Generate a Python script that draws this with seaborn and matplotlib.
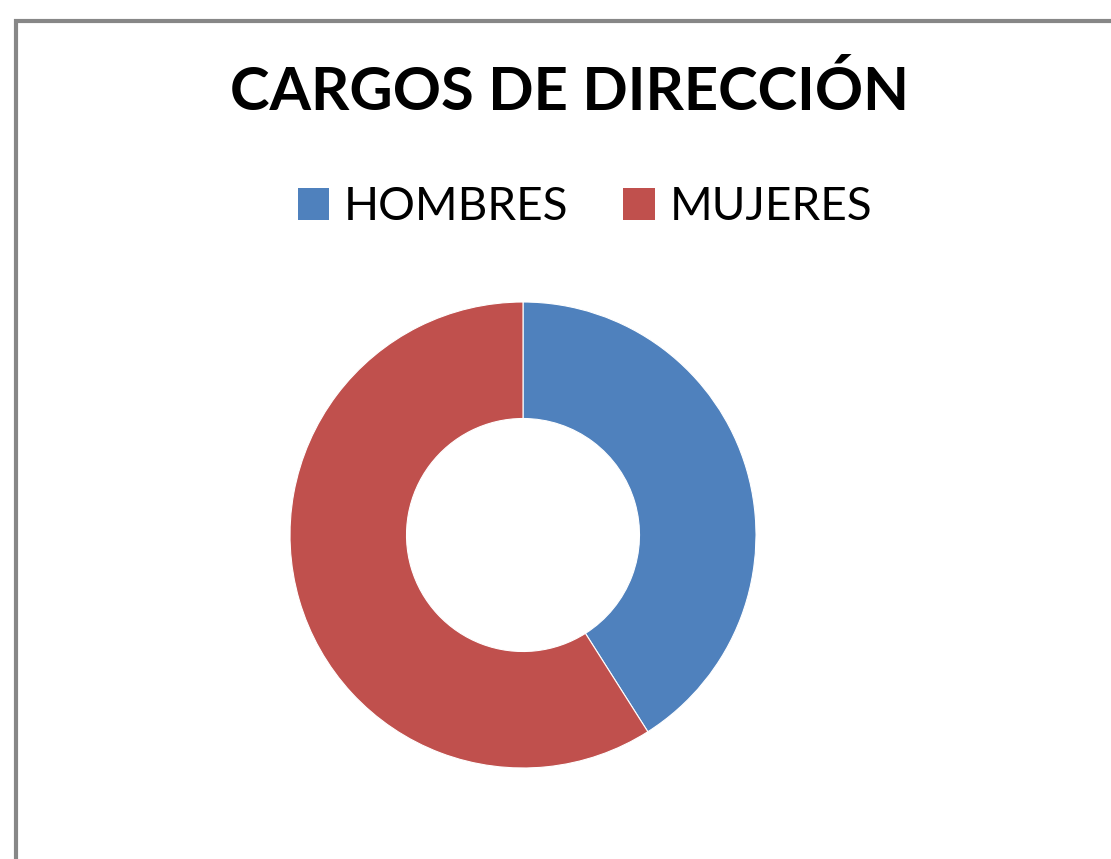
import matplotlib
matplotlib.use("Agg")
import matplotlib.pyplot as plt
import seaborn as sns
from matplotlib.patches import Rectangle, Patch

# --- Datos ---
categorias = ["HOMBRES", "MUJERES"]
valores = [41, 59]
colores = ["#4F81BD", "#C0504D"]
titulo = "CARGOS DE DIRECCIÓN"

sns.set_theme(style="white")
plt.rcParams['font.family'] = ['Lato', 'DejaVu Sans']

W, H = 1111, 859
fig = plt.figure(figsize=(W / 100, H / 100), dpi=100)

# marco gris (recortado a la derecha y abajo, como en la captura)
fig.patches.append(Rectangle((16 / W, -0.1), 1.2, 1.1 - 21 / H,
                             transform=fig.transFigure, fill=False,
                             edgecolor="#878787", linewidth=3, zorder=0))

# --- Donut ---
cx, cy, r = 523, 535, 233
ax = fig.add_axes([(cx - r) / W, (H - cy - r) / H, 2 * r / W, 2 * r / H])
ax.pie(valores, colors=colores, startangle=90, counterclock=False,
       radius=1, wedgeprops=dict(width=0.5, edgecolor="white", linewidth=0.8))
ax.set_xlim(-1, 1)
ax.set_ylim(-1, 1)
ax.set_aspect("equal")
ax.axis("off")

# --- Titulo ---
fig.text(570 / W, 1 - 92 / H, titulo, ha="center", va="center",
         fontsize=43, fontweight="bold", color="black")

# --- Leyenda ---
handles = [Patch(facecolor=c, edgecolor="none") for c in colores]
fig.legend(handles, categorias, loc="center", ncol=2,
           bbox_to_anchor=(585 / W, 1 - 207 / H), frameon=False,
           fontsize=33, labelcolor="black", handlelength=0.68,
           handleheight=0.68, handletextpad=0.33, columnspacing=1.2)

plt.savefig("out.png", dpi=100)
